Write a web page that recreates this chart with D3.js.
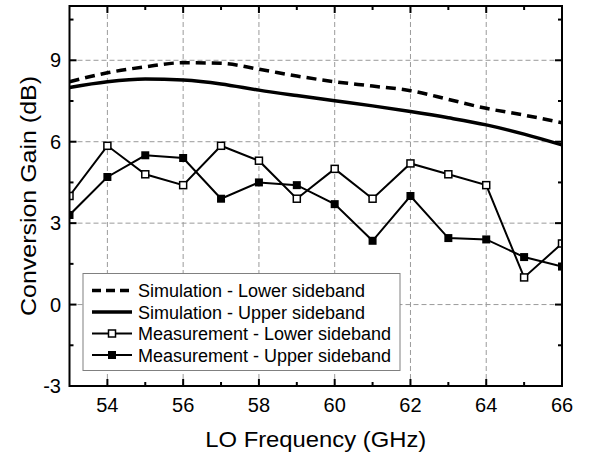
<!DOCTYPE html>
<html>
<head>
<meta charset="utf-8">
<script src="https://cdn.jsdelivr.net/npm/d3@7"></script>
<style>
  body { margin: 0; background: #fff; }
  text { font-family: 'Liberation Sans', Arial, sans-serif; fill: #000; }
</style>
</head>
<body>
<div id="container" style="width:600px;height:457px"></div>
<script>
// LO frequency (GHz)
const freqs = [53, 54, 55, 56, 57, 58, 59, 60, 61, 62, 63, 64, 65, 66]

// conversion gain (dB)
const simLower = [8.21, 8.54, 8.76, 8.91, 8.89, 8.67, 8.42, 8.21, 8.05, 7.88, 7.56, 7.23, 6.98, 6.70]
const simUpper = [8.0, 8.21, 8.31, 8.27, 8.13, 7.90, 7.70, 7.51, 7.32, 7.11, 6.88, 6.62, 6.28, 5.88]
const measLower = [4.0, 5.85, 4.8, 4.4, 5.85, 5.3, 3.9, 5.0, 3.9, 5.2, 4.8, 4.4, 1.0, 2.25]
const measUpper = [3.3, 4.7, 5.5, 5.4, 3.9, 4.5, 4.4, 3.7, 2.35, 4.0, 2.45, 2.4, 1.75, 1.4]

const xTicks = [54, 56, 58, 60, 62, 64, 66]
const xMinor = [55, 57, 59, 61, 63, 65]
const yTicks = [-3, 0, 3, 6, 9]
const yMinor = [-1.5, 1.5, 4.5, 7.5, 10.5]

const legendLabels = [
  'Simulation - Lower sideband',
  'Simulation - Upper sideband',
  'Measurement - Lower sideband',
  'Measurement - Upper sideband'
]

const w = 600
const h = 457
const margin = { left: 69.5, right: 38, top: 6, bottom: 71 }

const x = d3.scaleLinear()
  .domain([53, 66])
  .range([margin.left, w - margin.right])

const y = d3.scaleLinear()
  .domain([-3, 11])
  .range([h - margin.bottom, margin.top])

const svg = d3.select('#container')
  .append('svg')
  .attr('width', w)
  .attr('height', h)

const x0 = x.range()[0], x1 = x.range()[1]
const y0 = y.range()[1], y1 = y.range()[0]

svg.append('defs').append('clipPath')
  .attr('id', 'plotClip')
  .append('rect')
  .attr('x', x0)
  .attr('y', y0)
  .attr('width', x1 - x0)
  .attr('height', y1 - y0)

//GRID
const grid = svg.append('g')
  .attr('stroke', '#9a9a9a')
  .attr('stroke-width', 1)
  .attr('stroke-dasharray', '5,3')

grid.selectAll('.vgrid')
  .data(xTicks.filter(d => d < 66))
  .enter()
  .append('line')
  .attr('x1', d => x(d))
  .attr('x2', d => x(d))
  .attr('y1', y0)
  .attr('y2', y1)

grid.selectAll('.hgrid')
  .data(yTicks.filter(d => d > -3))
  .enter()
  .append('line')
  .attr('x1', x0)
  .attr('x2', x1)
  .attr('y1', d => y(d))
  .attr('y2', d => y(d))

//LINES
const plot = svg.append('g').attr('clip-path', 'url(#plotClip)')

const smooth = d3.line()
  .x((d, i) => x(freqs[i]))
  .y(d => y(d))
  .curve(d3.curveMonotoneX)

const straight = d3.line()
  .x((d, i) => x(freqs[i]))
  .y(d => y(d))

plot.append('path')
  .attr('d', smooth(simLower))
  .attr('fill', 'none')
  .attr('stroke', '#000')
  .attr('stroke-width', 3.5)
  .attr('stroke-dasharray', '10,6')

plot.append('path')
  .attr('d', smooth(simUpper))
  .attr('fill', 'none')
  .attr('stroke', '#000')
  .attr('stroke-width', 3.5)

plot.append('path')
  .attr('d', straight(measLower))
  .attr('fill', 'none')
  .attr('stroke', '#000')
  .attr('stroke-width', 2)

plot.append('path')
  .attr('d', straight(measUpper))
  .attr('fill', 'none')
  .attr('stroke', '#000')
  .attr('stroke-width', 2)

const ms = 7
plot.selectAll('.openSq')
  .data(measLower)
  .enter()
  .append('rect')
  .attr('x', (d, i) => x(freqs[i]) - ms / 2)
  .attr('y', d => y(d) - ms / 2)
  .attr('width', ms)
  .attr('height', ms)
  .attr('fill', '#fff')
  .attr('stroke', '#000')
  .attr('stroke-width', 1.5)

plot.selectAll('.fillSq')
  .data(measUpper)
  .enter()
  .append('rect')
  .attr('x', (d, i) => x(freqs[i]) - (ms + 1) / 2)
  .attr('y', d => y(d) - (ms + 1) / 2)
  .attr('width', ms + 1)
  .attr('height', ms + 1)
  .attr('fill', '#000')

//LEGEND
const legend = svg.append('g')
legend.append('rect')
  .attr('x', 83)
  .attr('y', 273.5)
  .attr('width', 317)
  .attr('height', 97)
  .attr('fill', '#fff')
  .attr('stroke', '#808080')
  .attr('stroke-width', 1)

const rows = legend.selectAll('.row')
  .data(legendLabels)
  .enter()
  .append('g')
  .attr('transform', (d, i) => `translate(0,${290.5 + i * 21.5})`)

rows.append('line')
  .attr('x1', 92)
  .attr('x2', 132)
  .attr('stroke', '#000')
  .attr('stroke-width', (d, i) => i < 2 ? 3.5 : 2)
  .attr('stroke-dasharray', (d, i) => i === 0 ? '9,5' : null)

rows.filter((d, i) => i === 2)
  .append('rect')
  .attr('x', 112 - ms / 2)
  .attr('y', -ms / 2)
  .attr('width', ms)
  .attr('height', ms)
  .attr('fill', '#fff')
  .attr('stroke', '#000')
  .attr('stroke-width', 1.5)

rows.filter((d, i) => i === 3)
  .append('rect')
  .attr('x', 112 - (ms + 1) / 2)
  .attr('y', -(ms + 1) / 2)
  .attr('width', ms + 1)
  .attr('height', ms + 1)
  .attr('fill', '#000')

rows.append('text')
  .attr('x', 138)
  .attr('y', 6.5)
  .attr('font-size', 18)
  .text(d => d)

//FRAME + TICKS (inward on all sides)
const axes = svg.append('g')
  .attr('stroke', '#000')
  .attr('stroke-width', 2)

axes.append('rect')
  .attr('x', x0)
  .attr('y', y0)
  .attr('width', x1 - x0)
  .attr('height', y1 - y0)
  .attr('fill', 'none')

const tickX = (vals, len) => {
  axes.selectAll(null).data(vals).enter().append('line')
    .attr('x1', d => x(d)).attr('x2', d => x(d))
    .attr('y1', y1).attr('y2', y1 - len)
  axes.selectAll(null).data(vals).enter().append('line')
    .attr('x1', d => x(d)).attr('x2', d => x(d))
    .attr('y1', y0).attr('y2', y0 + len)
}
const tickY = (vals, len) => {
  axes.selectAll(null).data(vals).enter().append('line')
    .attr('y1', d => y(d)).attr('y2', d => y(d))
    .attr('x1', x0).attr('x2', x0 + len)
  axes.selectAll(null).data(vals).enter().append('line')
    .attr('y1', d => y(d)).attr('y2', d => y(d))
    .attr('x1', x1).attr('x2', x1 - len)
}
tickX(xTicks, 7)
tickX(xMinor, 4)
tickY(yTicks, 7)
tickY(yMinor, 4)

//TICK LABELS
svg.selectAll('.xlab')
  .data(xTicks)
  .enter()
  .append('text')
  .attr('x', d => x(d))
  .attr('y', 412)
  .attr('text-anchor', 'middle')
  .attr('font-size', 20)
  .text(d => d)

svg.selectAll('.ylab')
  .data(yTicks)
  .enter()
  .append('text')
  .attr('x', 61)
  .attr('y', d => y(d) + 7)
  .attr('text-anchor', 'end')
  .attr('font-size', 20)
  .text(d => d)

//AXIS TITLES
svg.append('text')
  .attr('x', (x0 + x1) / 2)
  .attr('y', 447)
  .attr('text-anchor', 'middle')
  .attr('font-size', 22)
  .attr('textLength', 221)
  .attr('lengthAdjust', 'spacingAndGlyphs')
  .text('LO Frequency (GHz)')

svg.append('text')
  .attr('transform', `translate(36,${(y0 + y1) / 2}) rotate(-90)`)
  .attr('text-anchor', 'middle')
  .attr('font-size', 22)
  .attr('textLength', 240)
  .attr('lengthAdjust', 'spacingAndGlyphs')
  .text('Conversion Gain (dB)')
</script>
</body>
</html>
